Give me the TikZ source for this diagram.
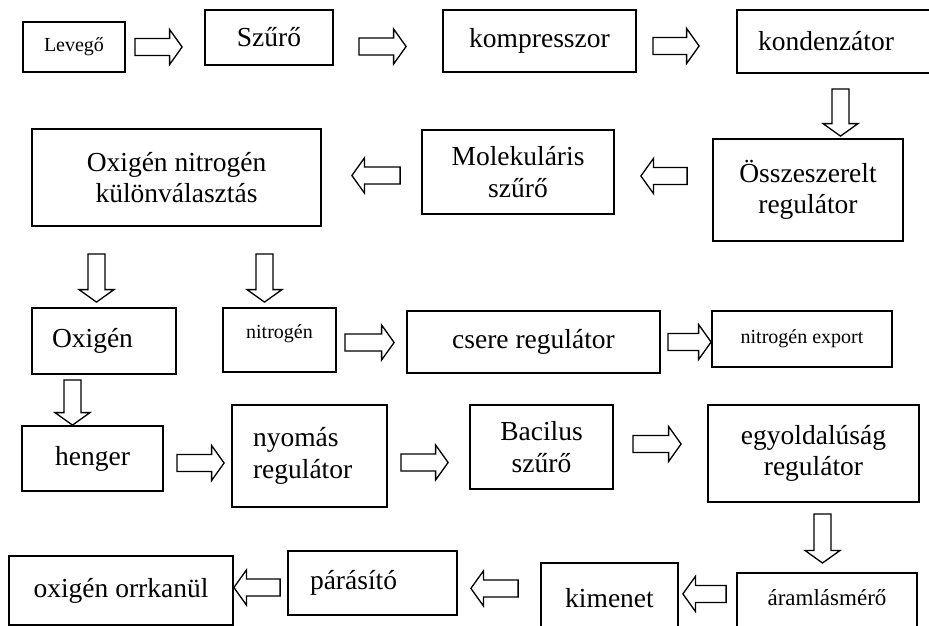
\documentclass[tikz,border=0pt]{standalone}
\usepackage{fontspec}
\setmainfont{Liberation Serif}
\usetikzlibrary{calc}

\begin{document}
\begin{tikzpicture}
[x=1pt,y=-1pt
,bx/.style={draw,line width=1.8pt,inner sep=0pt,align=center,font=\fontsize{27.5}{31.5}\selectfont}
,bxs/.style={bx,font=\fontsize{20}{24}\selectfont}
,fl/.style={draw,line width=1.3pt,fill=white}
,ar/.style={fl,to path={let \p1=(\tikztostart),\p2=(\tikztotarget) in
   (\x1,\y1+8.5) -- (\x2-12.5,\y1+8.5) -- (\x2-12.5,\y1+17.5) -- (\x2,\y1)
   -- (\x2-12.5,\y1-17.5) -- (\x2-12.5,\y1-8.5) -- (\x1,\y1-8.5) -- cycle}}
,al/.style={fl,to path={let \p1=(\tikztostart),\p2=(\tikztotarget) in
   (\x1,\y1+8.5) -- (\x2+12.5,\y1+8.5) -- (\x2+12.5,\y1+17.5) -- (\x2,\y1)
   -- (\x2+12.5,\y1-17.5) -- (\x2+12.5,\y1-8.5) -- (\x1,\y1-8.5) -- cycle}}
,ad/.style={fl,to path={let \p1=(\tikztostart),\p2=(\tikztotarget) in
   (\x1+8.5,\y1) -- (\x1+8.5,\y2+12.5) -- (\x1+17.5,\y2+12.5) -- (\x1,\y2)
   -- (\x1-17.5,\y2+12.5) -- (\x1-8.5,\y2+12.5) -- (\x1-8.5,\y1) -- cycle}}]
\useasboundingbox (0,0) rectangle (929,626);
\clip (0,0) rectangle (929,626);
\node[bxs,minimum width=102,minimum height=50] (lev) at (74,47) {Levegő};
\node[bx,minimum width=128,minimum height=55] (szuro) at (269,37.5) {Szűrő};
\node[bx,minimum width=193,minimum height=62] (komp) at (539.5,41) {kompresszor};
\node[bx,minimum height=63,text width=162,inner xsep=21,align=left] (kond) at (839,41.5) {kondenzátor};
\node[bx,minimum width=190,minimum height=102] (ossz) at (808,190) {Összeszerelt\\regulátor};
\node[bx,minimum width=192,minimum height=84] (mol) at (518,172) {Molekuláris\\szűrő};
\node[bx,minimum width=289,minimum height=97] (szet) at (176.5,177.5) {Oxigén nitrogén\\különválasztás};
\node[bx,minimum height=66,text width=104,inner xsep=20,align=left] (oxi) at (104,341) {Oxigén};
\node[bxs,minimum width=113,text height=30,text depth=34] (nit) at (279.5,340) {nitrogén};
\node[bx,minimum width=253,minimum height=62] (csere) at (533.5,342) {csere regulátor};
\node[bxs,minimum width=180,minimum height=56] (nexp) at (802,339) {nitrogén export};
\node[bx,minimum width=141,minimum height=65] (heng) at (92.5,458.5) {henger};
\node[bx,minimum height=102,text width=113,inner xsep=21,align=left] (nyom) at (309.5,456) {nyomás\\regulátor};
\node[bx,minimum width=143,minimum height=84] (bac) at (541.5,447) {Bacilus\\szűrő};
\node[bx,minimum width=211,minimum height=97] (egy) at (813.5,453.5) {egyoldalúság\\regulátor};
\node[bx,font=\fontsize{23}{27}\selectfont,minimum width=180,text height=33,text depth=40,anchor=north] (aram) at (827,572) {áramlásmérő};
\node[bx,minimum width=137,text height=45,text depth=30,anchor=north] (kim) at (609.5,562) {kimenet};
\node[bx,minimum height=64,text width=125,inner xsep=22,align=left] (paras) at (372.5,583) {párásító};
\node[bx,minimum width=224,minimum height=69] (orr) at (121,590.5) {oxigén orrkanül};
\draw[ar] ([xshift=9pt]lev.east) to ([xshift=-22pt]szuro.west);
\draw[ar] ([xshift=25pt,yshift=-9pt]szuro.east) to ([xshift=-36pt]komp.west);
\draw[ar] ([xshift=16pt,yshift=-5pt]komp.east) to ([xshift=-37pt]kond.west);
\draw[ad] ([xshift=1.5pt,yshift=-15pt]kond.south) to ([yshift=2pt]ossz.north);
\draw[al] ([xshift=-25pt,yshift=14pt]ossz.west) to ([xshift=26pt]mol.east);
\draw[al] ([xshift=-21pt,yshift=-3.5pt]mol.west) to ([xshift=30pt]szet.east);
\draw[ad] ([xshift=-80pt,yshift=-27pt]szet.south) to ([yshift=5pt]oxi.north);
\draw[ad] ([xshift=88pt,yshift=-27pt]szet.south) to ([yshift=5pt]nit.north);
\draw[ar] ([xshift=8pt,yshift=-2.5pt]nit.east) to ([xshift=-12pt]csere.west);
\draw[ar] ([xshift=7pt]csere.east) to (nexp.west);
\draw[ad] ([xshift=-31.5pt,yshift=-5pt]oxi.south) to (heng.north);
\draw[ar] ([xshift=13pt,yshift=-4.5pt]heng.east) to ([xshift=-7pt]nyom.west);
\draw[ar] ([xshift=13pt,yshift=-6.5pt]nyom.east) to ([xshift=-21pt]bac.west);
\draw[ar] ([xshift=19pt,yshift=3pt]bac.east) to ([xshift=-26pt]egy.west);
\draw[ad] ([xshift=9pt,yshift=-11pt]egy.south) to ([yshift=9pt]aram.north);
\draw[al] ([xshift=-10pt,yshift=15.5pt]aram.west) to ([xshift=4pt]kim.east);
\draw[al] ([xshift=-22pt,yshift=12pt]kim.west) to ([xshift=13pt]paras.east);
\draw[al] ([xshift=-7pt,yshift=-4.5pt]paras.west) to (orr.east);
\end{tikzpicture}
\end{document}
